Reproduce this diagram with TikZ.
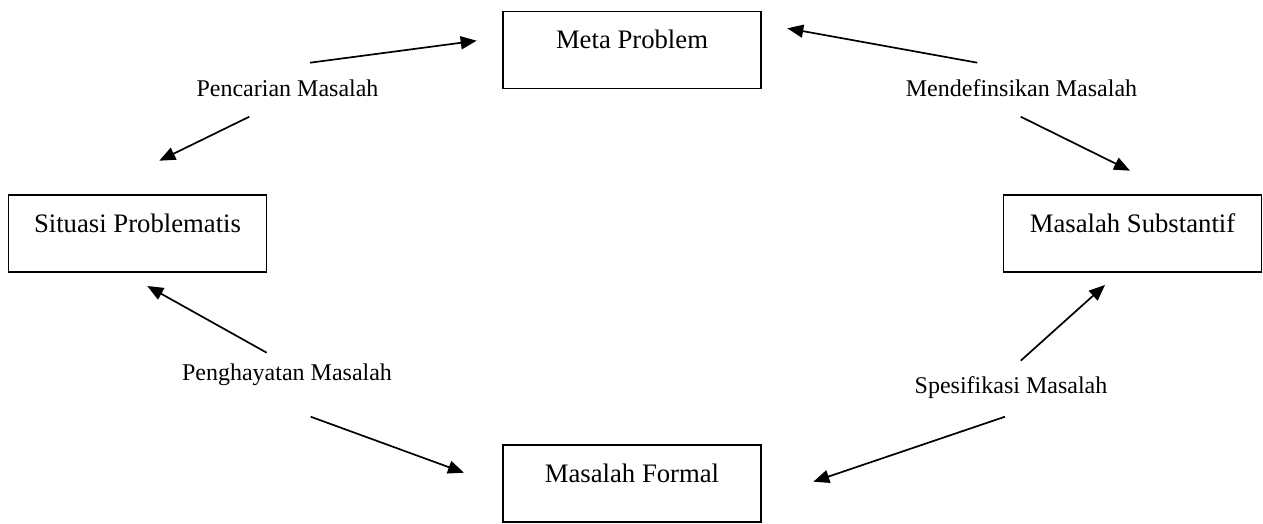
\documentclass[tikz,border=0pt]{standalone}
\usepackage{fontspec}
\setmainfont{Liberation Serif}
\usetikzlibrary{arrows.meta}
\begin{document}
\begin{tikzpicture}[x=1pt,y=-1pt,
  box/.style={draw=black, line width=1.8pt, minimum width=258pt, minimum height=77pt,
    inner sep=0pt, text height=18pt, text depth=21pt, font=\fontsize{26.7}{32}\selectfont},
  lbl/.style={inner sep=0pt, font=\fontsize{24}{29}\selectfont},
  arr/.style={line width=1.7pt, -{Triangle[length=16pt,width=13pt]}}]
\useasboundingbox (0,0) rectangle (1263,523);
% boxes
\node[box] (meta) at (632,50) {Meta Problem};
\node[box] (situ) at (137.5,233.5) {Situasi Problematis};
\node[box] (subs) at (1132.5,233.5) {Masalah Substantif};
\node[box] (form) at (632,483.5) {Masalah Formal};
% labels
\node[lbl] (l1) at (287.5,88) {Pencarian Masalah};
\node[lbl] (l2) at (1021.5,88) {Mendefinsikan Masalah};
\node[lbl] (l3) at (287,375) {Penghayatan Masalah};
\node[lbl] (l4) at (1011,388) {Spesifikasi Masalah};
% arrow end points
\coordinate (a1s) at (310,62.7);   \coordinate (a1e) at (476.7,40.7);
\coordinate (a2s) at (249.3,116.7); \coordinate (a2e) at (159.3,160.7);
\coordinate (a3s) at (977.3,62.7);  \coordinate (a3e) at (787.3,28.3);
\coordinate (a4s) at (1020.7,116.7); \coordinate (a4e) at (1130,170.7);
\coordinate (a5s) at (266.7,352.7); \coordinate (a5e) at (147.3,286);
\coordinate (a6s) at (310.7,416.7); \coordinate (a6e) at (464,472.7);
\coordinate (a7s) at (1020.7,360.7); \coordinate (a7e) at (1105,285);
\coordinate (a8s) at (1005,416.7);  \coordinate (a8e) at (813.3,481.7);
\draw[arr] (a1s) -- (a1e);
\draw[arr] (a2s) -- (a2e);
\draw[arr] (a3s) -- (a3e);
\draw[arr] (a4s) -- (a4e);
\draw[arr] (a5s) -- (a5e);
\draw[arr] (a6s) -- (a6e);
\draw[arr] (a7s) -- (a7e);
\draw[arr] (a8s) -- (a8e);
\end{tikzpicture}
\end{document}
